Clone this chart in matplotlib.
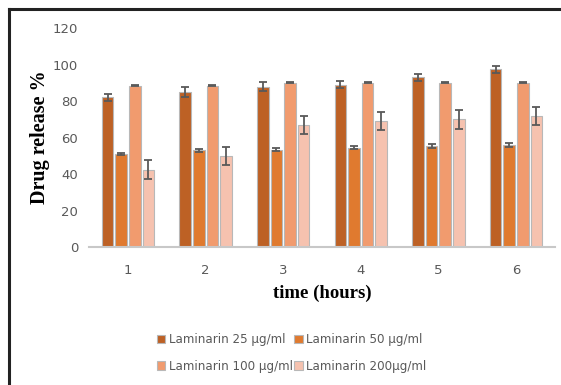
import numpy as np
import matplotlib.pyplot as plt
from matplotlib.lines import Line2D

hours = ['1', '2', '3', '4', '5', '6']
series = ['Laminarin 25 µg/ml', 'Laminarin 50 µg/ml',
          'Laminarin 100 µg/ml', 'Laminarin 200µg/ml']
lam25 = [82, 85, 88, 89, 93, 97.5]
lam25_err = [2, 2.5, 2.5, 2, 2, 2]
lam50 = [51, 53, 53.5, 54.5, 55.5, 56]
lam50_err = [0.6, 1, 1, 0.8, 1, 1]
lam100 = [88.5, 88.5, 90, 90, 90, 90]
lam100_err = [0.3, 0.3, 0.3, 0.3, 0.3, 0.3]
lam200 = [42.5, 50, 67, 69, 70, 72]
lam200_err = [5, 5, 5, 5, 5, 5]

values = [lam25, lam50, lam100, lam200]
errors = [lam25_err, lam50_err, lam100_err, lam200_err]
colors = ['#bd6125', '#e07a2f', '#f19b6e', '#f6c2af']

fig = plt.figure(figsize=(5.61, 3.85), dpi=100)
ax = fig.add_axes([0.159, 0.358, 0.83, 0.569])

x = np.arange(len(hours))
slot = 0.175
w = slot * 0.85
for i, (v, e, c) in enumerate(zip(values, errors, colors)):
    ax.bar(x + (i - 1.5) * slot, v, w, color=c, edgecolor='#b8b8b8',
           linewidth=0.8, label=series[i],
           yerr=e, capsize=3, error_kw=dict(ecolor='#595959', elinewidth=1.3, capthick=1.3))

ax.set_xlim(-0.5, len(hours) - 0.5)
ax.set_ylim(0, 120)
ax.set_yticks(range(0, 121, 20))
ax.set_xticks(x)
ax.set_xticklabels(hours)
for s in ['top', 'right', 'left']:
    ax.spines[s].set_visible(False)
ax.spines['bottom'].set_color('#c8c8c8')
ax.spines['bottom'].set_linewidth(1.5)
ax.tick_params(axis='both', length=0, colors='#595959', labelsize=9.5)
ax.tick_params(axis='x', pad=12)
ax.tick_params(axis='y', pad=8)

ax.set_ylabel('Drug release %', fontfamily='Liberation Serif', fontweight='bold',
              fontsize=14.5, color='black', labelpad=2)
ax.set_xlabel('time (hours)', fontfamily='Liberation Serif', fontweight='bold',
              fontsize=13.5, color='black', labelpad=6)

handles, labels = ax.get_legend_handles_labels()
order = [0, 2, 1, 3]
leg = fig.legend([handles[k] for k in order], [labels[k] for k in order],
                 loc='center', bbox_to_anchor=(0.52, 0.083), ncol=2,
                 frameon=False, fontsize=8.6, handlelength=0.7, handleheight=0.7,
                 handletextpad=0.3, columnspacing=0.15, labelspacing=1.1)
for t in leg.get_texts():
    t.set_color('#595959')

# outer frame
fig.add_artist(Line2D([9 / 561, 9 / 561], [0, 1 - 9 / 385], color='#222222', lw=2.2,
                      transform=fig.transFigure))
fig.add_artist(Line2D([9 / 561, 1], [1 - 9 / 385, 1 - 9 / 385], color='#222222', lw=2.2,
                      transform=fig.transFigure))

fig.savefig('out.png', dpi=100)
